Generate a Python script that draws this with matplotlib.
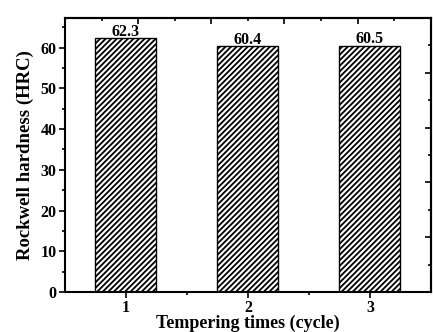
import matplotlib
matplotlib.use("Agg")
import matplotlib.pyplot as plt
import numpy as np
from matplotlib.ticker import MultipleLocator, FixedLocator

cycles = [1, 2, 3]
hardness = [62.3, 60.4, 60.5]
labels = ["62.3", "60.4", "60.5"]

plt.rcParams['font.family'] = ['Liberation Serif', 'DejaVu Serif']
plt.rcParams['font.weight'] = 'bold'
plt.rcParams['hatch.linewidth'] = 1.3

fig = plt.figure(figsize=(4.33, 3.32), dpi=100)
ax = fig.add_axes([0.150, 0.1205, 0.845, 0.8253])

bars = ax.bar(cycles, hardness, width=0.5, color='white', edgecolor='black',
              hatch='//////', linewidth=1.0)
for x, v, t in zip(cycles, hardness, labels):
    ax.text(x, v - 0.4, t, ha='center', va='bottom', fontsize=11.5, fontweight='bold')

ax.set_xlim(0.5, 3.5)
ax.set_ylim(0, 67.3)
ax.set_xticks(cycles)
ax.xaxis.set_minor_locator(FixedLocator([1.5, 2.5]))
ax.yaxis.set_major_locator(MultipleLocator(10))
ax.yaxis.set_minor_locator(MultipleLocator(5))
ax.tick_params(axis='both', which='major', direction='out', length=4, width=1.2,
               labelsize=11.5, pad=2)
ax.tick_params(axis='x', which='major', pad=1.5)
ax.tick_params(axis='both', which='minor', direction='out', length=2.5, width=1.2)
for lab in ax.get_xticklabels() + ax.get_yticklabels():
    lab.set_fontweight('bold')

# top and right axes with 10 divisions
top = ax.secondary_xaxis('top')
top.xaxis.set_major_locator(FixedLocator(np.arange(0.5, 3.51, 0.6)))
top.xaxis.set_minor_locator(FixedLocator(np.arange(0.8, 3.5, 0.6)))
top.tick_params(which='major', direction='in', length=4, width=1.2, labeltop=False)
top.tick_params(which='minor', direction='in', length=2.5, width=1.2)
top.spines['top'].set_linewidth(1.5)

right = ax.secondary_yaxis('right')
right.yaxis.set_major_locator(FixedLocator(np.arange(0, 67.4, 13.46)))
right.yaxis.set_minor_locator(FixedLocator(np.arange(6.73, 67.3, 13.46)))
right.tick_params(which='major', direction='in', length=4, width=1.2, labelright=False)
right.tick_params(which='minor', direction='in', length=2.5, width=1.2)
right.spines['right'].set_linewidth(1.5)

for s in ax.spines.values():
    s.set_linewidth(1.5)

ax.set_ylabel('Rockwell hardness (HRC)', fontsize=13.5, fontweight='bold', labelpad=5)
ax.set_xlabel('Tempering times (cycle)', fontsize=13, fontweight='bold', labelpad=-1)

fig.savefig('out.png', dpi=100)
